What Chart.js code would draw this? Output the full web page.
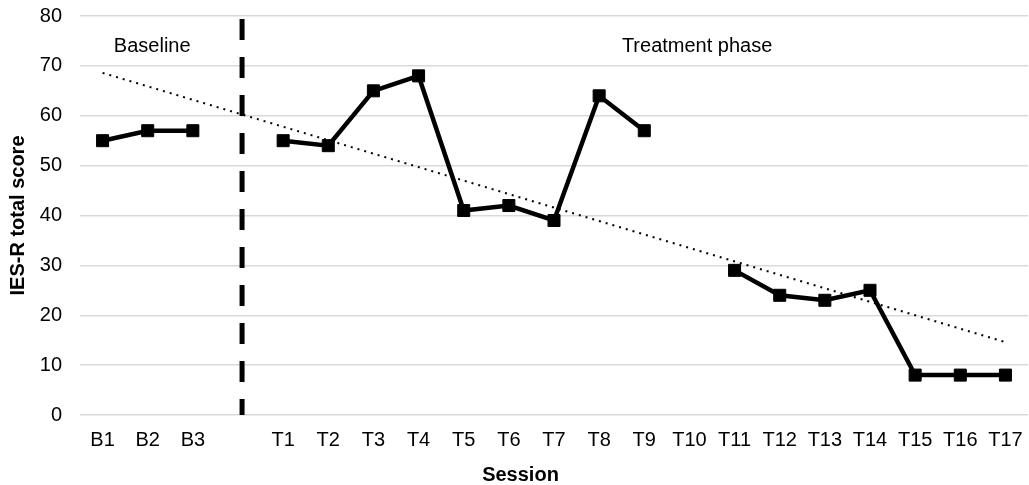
<!DOCTYPE html>
<html>
<head>
<meta charset="utf-8">
<script src="https://cdn.jsdelivr.net/npm/chart.js@4/dist/chart.umd.min.js"></script>
<style>
html,body{margin:0;padding:0;background:#fff;}
#wrap{width:1029px;height:485px;}
</style>
</head>
<body>
<div id="wrap"><canvas id="c" width="1029" height="485"></canvas></div>
<script>
const sessions = ['B1','B2','B3','','T1','T2','T3','T4','T5','T6','T7','T8','T9','T10','T11','T12','T13','T14','T15','T16','T17'];
const scores = [55,57,57,null,55,54,65,68,41,42,39,64,57,null,29,24,23,25,8,8,8];
const trendEnds = [68.6, 14.6];          // linear trend value at B1 and at T17
const phaseChange = 3.09;                 // session position of the phase-change line
const phaseLineRange = [79.4, 0];
const yTicks = [0,10,20,30,40,50,60,70,80];
const phaseLabels = [
  {text:'Baseline', at:1.1, y:73.8},
  {text:'Treatment phase', at:13.17, y:73.8}
];
const xTitle = 'Session';
const yTitle = 'IES-R total score';

const trendData = sessions.map((s,i)=> i===0 ? trendEnds[0] : (i===sessions.length-1 ? trendEnds[1] : null));

const FONT = "'Liberation Sans', Arial, sans-serif";

const labelPlugin = {
  id:'phaseLabels',
  afterDatasetsDraw(chart){
    const ctx = chart.ctx;
    const xs = chart.scales.x2, ys = chart.scales.y;
    ctx.save();
    ctx.font = "20px " + FONT;
    ctx.fillStyle = '#000';
    ctx.textAlign = 'center';
    ctx.textBaseline = 'middle';
    phaseLabels.forEach(p=>{
      ctx.fillText(p.text, xs.getPixelForValue(p.at), ys.getPixelForValue(p.y));
    });
    // x-axis title, centred under the whole figure as in the original
    ctx.font = "bold 20px " + FONT;
    ctx.fillText(xTitle, chart.width / 2 + 6, chart.height - 10);
    ctx.restore();
  }
};

const zeroSidePad = scale => { scale.paddingLeft = 0; scale.paddingRight = 0; };

new Chart(document.getElementById('c'), {
  type:'line',
  data:{
    labels:sessions,
    datasets:[
      {
        label:'IES-R',
        data:scores,
        borderColor:'#000',
        backgroundColor:'#000',
        borderWidth:4.5,
        pointStyle:'rect',
        pointRadius:8.5,
        pointBorderWidth:1,
        pointBackgroundColor:'#000',
        pointBorderColor:'#000',
        spanGaps:false,
        tension:0,
        clip:false,
        order:1
      },
      {
        label:'Trend',
        data:trendData,
        borderColor:'#000',
        borderWidth:2,
        borderDash:[2,5],
        pointRadius:0,
        spanGaps:true,
        tension:0,
        order:2
      },
      {
        label:'Phase change',
        xAxisID:'x2',
        data:[{x:phaseChange,y:phaseLineRange[0]},{x:phaseChange,y:phaseLineRange[1]}],
        borderColor:'#000',
        borderWidth:5,
        borderDash:[21,17],
        borderCapStyle:'butt',
        pointRadius:0,
        order:3
      }
    ]
  },
  options:{
    responsive:false,
    animation:false,
    events:[],
    layout:{autoPadding:false, padding:{left:0,right:1,top:0,bottom:0}},
    plugins:{legend:{display:false},tooltip:{enabled:false}},
    scales:{
      x:{
        type:'category',
        offset:true,
        grid:{display:false, drawTicks:false},
        border:{display:false},
        ticks:{color:'#000', font:{family:FONT,size:20}, padding:13, maxRotation:0, autoSkip:false},
        title:{display:false},
        afterFit(scale){ scale.height = 70; zeroSidePad(scale); }
      },
      x2:{
        type:'linear',
        display:false,
        min:-0.5,
        max:sessions.length-0.5,
        afterFit: zeroSidePad
      },
      y:{
        min:0,max:80,
        afterBuildTicks(axis){ axis.ticks = yTicks.map(v=>({value:v})); },
        grid:{color:'#d9d9d9', lineWidth:1.5, drawTicks:false},
        border:{display:false},
        ticks:{color:'#000', font:{family:FONT,size:20}, padding:18},
        title:{display:true, text:yTitle, color:'#000', font:{family:FONT,size:20,weight:'bold'}, padding:{top:6,bottom:0}},
        afterFit(scale){ scale.width = 80; scale.paddingTop = 16; scale.paddingBottom = 12; }
      }
    }
  },
  plugins:[labelPlugin]
});
</script>
</body>
</html>
